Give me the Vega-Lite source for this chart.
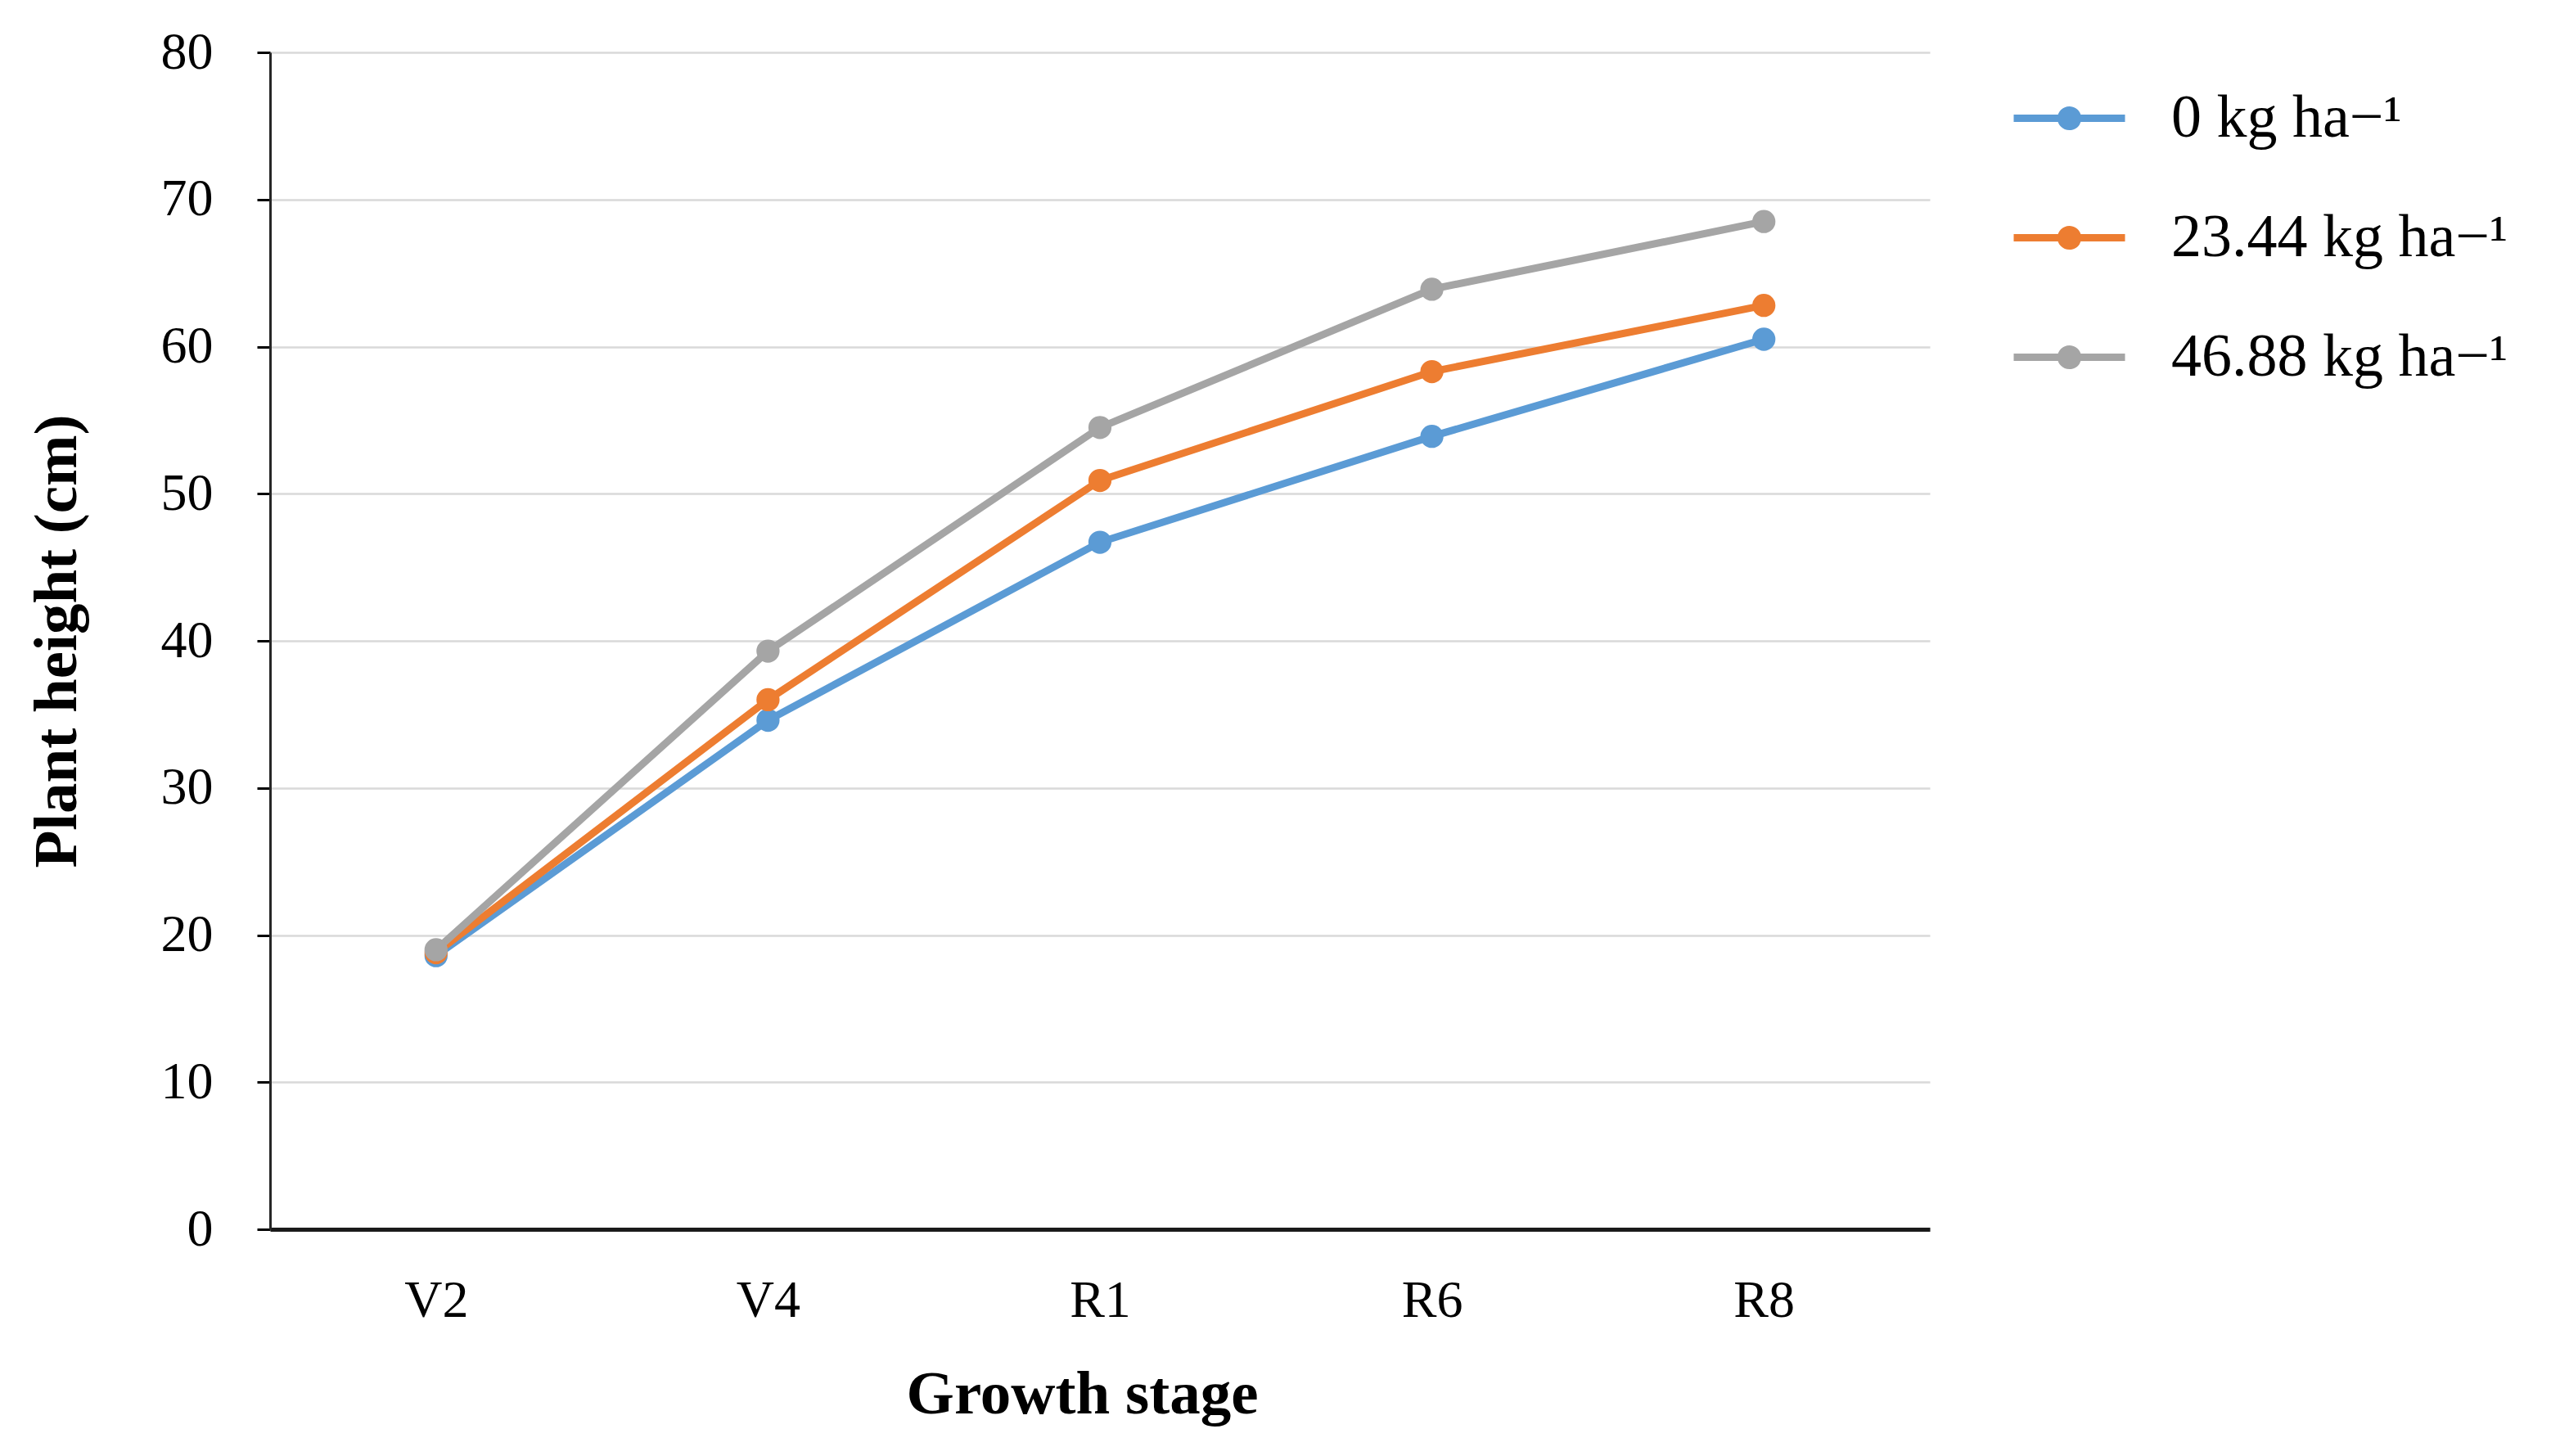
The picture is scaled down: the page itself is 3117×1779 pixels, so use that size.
{
  "$schema": "https://vega.github.io/schema/vega-lite/v6.json",
  "width": 2028,
  "height": 1438,
  "autosize": {"type": "none"},
  "padding": {"left": 330, "top": 64, "right": 759, "bottom": 277},
  "background": "white",
  "config": {"view": {"stroke": null}, "font": "Liberation Serif"},
  "data": {
    "values": [
      {"stage": "V2", "rate": "0 kg ha−¹", "height": 18.6},
      {"stage": "V4", "rate": "0 kg ha−¹", "height": 34.6},
      {"stage": "R1", "rate": "0 kg ha−¹", "height": 46.7},
      {"stage": "R6", "rate": "0 kg ha−¹", "height": 53.9},
      {"stage": "R8", "rate": "0 kg ha−¹", "height": 60.5},
      {"stage": "V2", "rate": "23.44 kg ha−¹", "height": 18.8},
      {"stage": "V4", "rate": "23.44 kg ha−¹", "height": 36.0},
      {"stage": "R1", "rate": "23.44 kg ha−¹", "height": 50.9},
      {"stage": "R6", "rate": "23.44 kg ha−¹", "height": 58.3},
      {"stage": "R8", "rate": "23.44 kg ha−¹", "height": 62.8},
      {"stage": "V2", "rate": "46.88 kg ha−¹", "height": 19.0},
      {"stage": "V4", "rate": "46.88 kg ha−¹", "height": 39.3},
      {"stage": "R1", "rate": "46.88 kg ha−¹", "height": 54.5},
      {"stage": "R6", "rate": "46.88 kg ha−¹", "height": 63.9},
      {"stage": "R8", "rate": "46.88 kg ha−¹", "height": 68.5}
    ]
  },
  "encoding": {
    "x": {
      "field": "stage",
      "type": "ordinal",
      "sort": ["V2", "V4", "R1", "R6", "R8"],
      "scale": {"type": "point", "padding": 0.5},
      "axis": {
        "title": "Growth stage",
        "titleFont": "Liberation Serif",
        "titleFontSize": 75,
        "titleFontWeight": "bold",
        "titleColor": "black",
        "titlePadding": 46,
        "titleX": 992,
        "labelFont": "Liberation Serif",
        "labelFontSize": 64,
        "labelColor": "black",
        "labelAngle": 0,
        "labelPadding": 55,
        "ticks": false,
        "grid": false,
        "domainColor": "#1a1a1a",
        "domainWidth": 5
      }
    },
    "y": {
      "field": "height",
      "type": "quantitative",
      "scale": {"domain": [0, 80]},
      "axis": {
        "values": [0, 10, 20, 30, 40, 50, 60, 70, 80],
        "title": "Plant height (cm)",
        "titleFont": "Liberation Serif",
        "titleFontSize": 75,
        "titleFontWeight": "bold",
        "titleColor": "black",
        "titlePadding": 88,
        "labelFont": "Liberation Serif",
        "labelFontSize": 64,
        "labelColor": "black",
        "labelPadding": 54,
        "tickSize": 16,
        "tickColor": "black",
        "tickWidth": 3,
        "domainColor": "#262626",
        "domainWidth": 3,
        "gridColor": "#d9d9d9",
        "gridWidth": 2.5
      }
    },
    "color": {
      "field": "rate",
      "type": "nominal",
      "sort": ["0 kg ha−¹", "23.44 kg ha−¹", "46.88 kg ha−¹"],
      "scale": {
        "domain": ["0 kg ha−¹", "23.44 kg ha−¹", "46.88 kg ha−¹"],
        "range": ["#5b9bd5", "#ed7d31", "#a5a5a5"]
      },
      "legend": {
        "orient": "none",
        "legendX": 2130,
        "legendY": 12,
        "title": null,
        "labelFont": "Liberation Serif",
        "labelFontSize": 74,
        "labelColor": "black",
        "labelLimit": 0,
        "labelOffset": 56,
        "rowPadding": 40,
        "symbolType": "M-1,-0.065H1V0.065H-1Z M-0.215,0A0.215,0.215,0,1,1,0.215,0A0.215,0.215,0,1,1,-0.215,0Z",
        "symbolSize": 18500,
        "symbolStrokeWidth": 0,
        "symbolOpacity": 1,
        "encode": {
          "symbols": {
            "update": {
              "fill": {"scale": "color", "field": "value"},
              "stroke": {"value": "transparent"},
              "opacity": {"value": 1}
            }
          }
        }
      }
    }
  },
  "layer": [
    {"mark": {"type": "line", "strokeWidth": 9, "interpolate": "linear"}},
    {"mark": {"type": "point", "filled": true, "size": 800, "opacity": 1}}
  ]
}
